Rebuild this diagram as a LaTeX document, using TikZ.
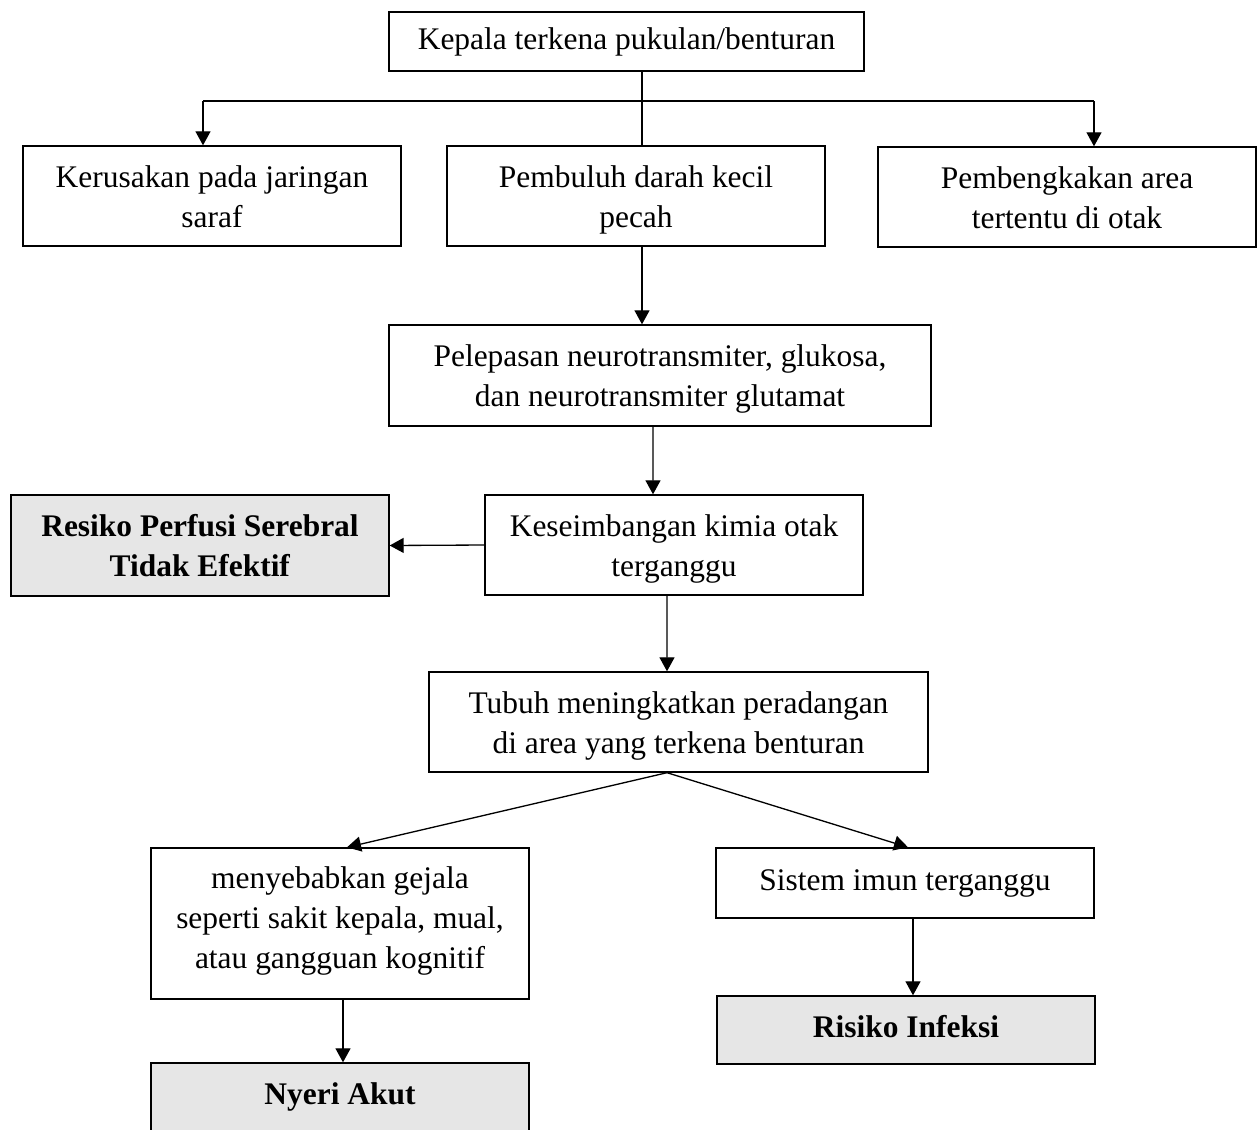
\documentclass[tikz,border=0pt]{standalone}
\usepackage{fontspec}
\setmainfont{Liberation Serif}
\usetikzlibrary{arrows.meta}
\definecolor{boxgray}{RGB}{230,230,230}

\begin{document}
\begin{tikzpicture}[x=0.02cm,y=-0.02cm]
\tikzset{box/.style = {shape=rectangle,draw,line width=0.8pt,align=center,inner sep=0pt,
  minimum width=7.56cm,minimum height=2cm,font=\fontsize{17.9}{22.7}\selectfont,
  execute at begin node=\strut,execute at end node=\strut}}
\tikzset{twoline/.style = {execute at begin node={\rule{0pt}{1.49cm}}}}
\tikzset{diag/.style = {box,fill=boxgray}}
\tikzset{edge/.style = {->,> = {Triangle[length=2.8mm,width=3mm]},line width=0.75pt}}
\tikzset{line/.style = {line width=0.75pt}}
\clip (0,0) rectangle (1257,1129);

\node[box,minimum width=9.5cm,minimum height=1.18cm] (top) at (626.5,41.5) {Kepala terkena pukulan/benturan};
\node[box,twoline] (kerusakan) at (212,196) {Kerusakan pada jaringan\\saraf};
\node[box,twoline] (pembuluh) at (636,196) {Pembuluh darah kecil\\pecah};
\node[box,twoline] (pembengkakan) at (1067,197) {Pembengkakan area\\tertentu di otak};
\node[box,twoline,minimum width=10.84cm,minimum height=2.02cm] (pelepasan) at (660,375.5) {Pelepasan neurotransmiter, glukosa,\\dan neurotransmiter glutamat};
\node[box,twoline] (keseimbangan) at (674,545) {Keseimbangan kimia otak\\terganggu};
\node[diag,twoline,minimum height=2.02cm] (perfusi) at (200,545.5) {\textbf{Resiko Perfusi Serebral}\\\textbf{Tidak Efektif}};
\node[box,twoline,minimum width=9.98cm] (tubuh) at (678.5,722) {Tubuh meningkatkan peradangan\\di area yang terkena benturan};
\node[box,minimum height=3.02cm] (gejala) at (340,923.5) {menyebabkan gejala\\seperti sakit kepala, mual,\\atau gangguan kognitif};
\node[box,minimum height=1.4cm] (imun) at (905,883) {Sistem imun terganggu};
\node[diag,minimum height=1.36cm] (infeksi) at (906,1030) {\textbf{Risiko Infeksi}};
\node[diag,minimum height=1.36cm] (nyeri) at (340,1097) {\textbf{Nyeri Akut}};

\coordinate (fork) at (642,101);
\coordinate (forkL) at (203,101);
\coordinate (forkR) at (1094,101);

\draw[line] (top.south -| fork) to (fork |- pembuluh.north);
\draw[line] (forkL) to (forkR);
\draw[edge] (forkL) to (forkL |- kerusakan.north);
\draw[edge] (forkR) to (forkR |- pembengkakan.north);
\draw[edge] (pembuluh.south -| fork) to (fork |- pelepasan.north);
\draw[edge] ([xshift=-0.14cm]pelepasan.south) to ([xshift=-0.42cm]keseimbangan.north);
\draw[edge] (keseimbangan.west) to (perfusi.east);
\draw[edge] ([xshift=-0.14cm]keseimbangan.south) to ([xshift=-0.23cm]tubuh.north);
\draw[edge] ([xshift=-0.23cm]tubuh.south) to ([xshift=0.14cm]gejala.north);
\draw[edge] ([xshift=-0.23cm]tubuh.south) to ([xshift=0.06cm]imun.north);
\draw[edge] ([xshift=0.06cm]gejala.south) to ([xshift=0.06cm]nyeri.north);
\draw[edge] ([xshift=0.16cm]imun.south) to ([xshift=0.14cm]infeksi.north);
\end{tikzpicture}
\end{document}
